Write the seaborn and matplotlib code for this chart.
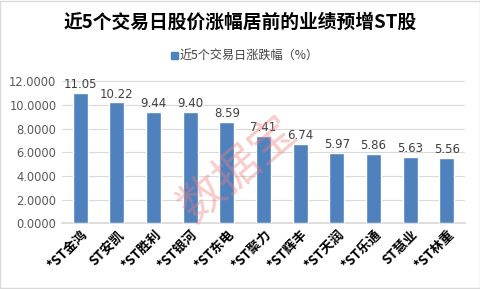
import matplotlib
matplotlib.use("Agg")
import matplotlib.pyplot as plt
import seaborn as sns
import pandas as pd
from matplotlib.patches import Rectangle

categories = ["*ST金鸿", "ST安凯", "*ST胜利", "*ST银河", "*ST东电", "*ST聚力",
              "*ST辉丰", "*ST天润", "*ST乐通", "ST慧业", "*ST林重"]
values = [11.05, 10.22, 9.44, 9.40, 8.59, 7.41, 6.74, 5.97, 5.86, 5.63, 5.56]
yticks = [0, 2, 4, 6, 8, 10, 12]
title = "近5个交易日股价涨幅居前的业绩预增ST股"
series_name = "近5个交易日涨跌幅（%）"

sns.set_theme(style="white")
plt.rcParams['font.family'] = ['Noto Sans CJK SC', 'DejaVu Sans']

df = pd.DataFrame({"cat": categories, "val": values})

fig = plt.figure(figsize=(4.81, 2.89), dpi=100)
ax = fig.add_axes([62/481, 1 - 223.3/289, 403/481, (223.3 - 72)/289])

sns.barplot(data=df, x="cat", y="val", color="#4F81BD", saturation=1,
            width=0.41, ax=ax, zorder=3)

ax.set_ylim(0, 12.8)
ax.set_yticks(yticks)
ax.set_yticklabels([f"{v:.4f}" for v in yticks], fontsize=8.3, color="#595959",
                   family=['DejaVu Sans'])
ax.set_xlim(-0.5, len(categories) - 0.5)
ax.grid(axis="y", color="#D9D9D9", linewidth=0.8, zorder=0)
for s in ["top", "right", "left"]:
    ax.spines[s].set_visible(False)
ax.spines["bottom"].set_color("#D9D9D9")
ax.tick_params(axis="y", length=0, pad=4)
ax.tick_params(axis="x", length=0, pad=3)
ax.set_xlabel("")
ax.set_ylabel("")
ax.set_xticks(range(len(categories)))
ax.set_xticklabels(categories, rotation=45, ha="right", rotation_mode="anchor",
                   fontsize=9.5, fontweight="bold", color="black")

for i, v in enumerate(values):
    ax.text(i, v + 0.15, f"{v:.2f}", ha="center", va="bottom", fontsize=8.5,
            color="#404040", family=['DejaVu Sans'], zorder=4)

fig.text(0.5, 1 - 22/289, title, ha="center", va="center", fontsize=13.5,
         fontweight="bold", color="black")

# legend
fig.patches.append(Rectangle((171/481, 1 - 58.5/289), 6.5/481, 6.5/289,
                             transform=fig.transFigure, color="#4F81BD"))
fig.text(180/481, 1 - 55/289, series_name, ha="left", va="center", fontsize=8.7,
         color="#404040")

# watermark
fig.text(238/481, 1 - 170/289, "数据宝", ha="center", va="center", fontsize=33,
         color="#F08080", alpha=0.4, rotation=40)

# border
fig.patches.append(Rectangle((0.001, 0.002), 0.997, 0.995, transform=fig.transFigure,
                             fill=False, edgecolor="#D9D9D9", linewidth=1))

fig.savefig("out.png", dpi=100, facecolor="white")
